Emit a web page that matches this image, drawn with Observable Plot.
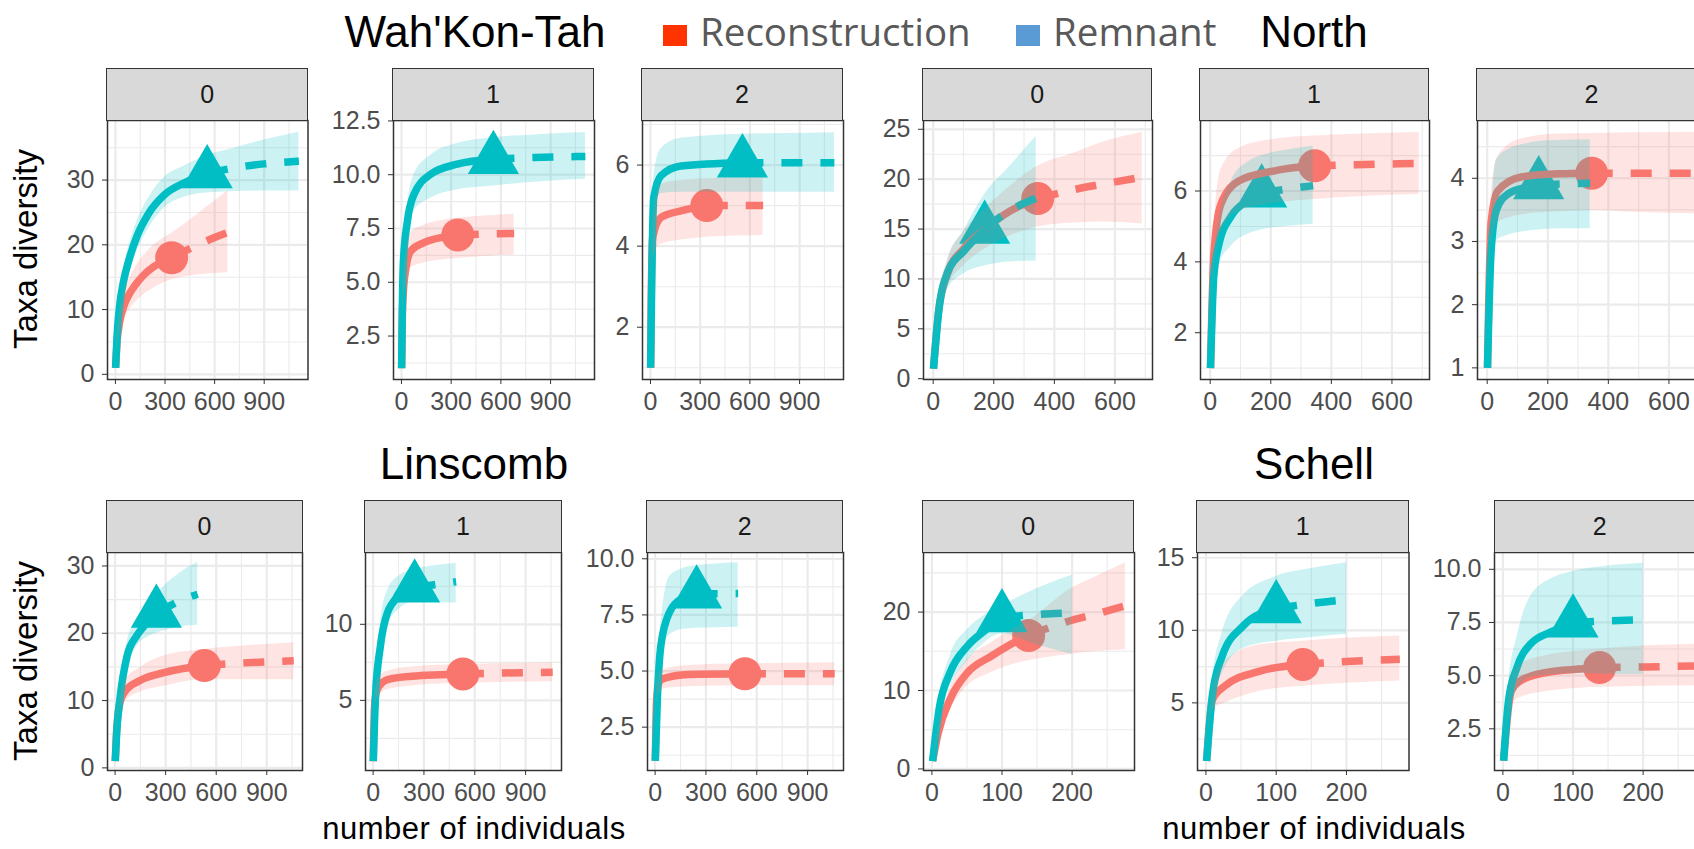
<!DOCTYPE html>
<html>
<head>
<meta charset="utf-8">
<script src="https://cdn.jsdelivr.net/npm/d3@7"></script>
<script src="https://cdn.jsdelivr.net/npm/@observablehq/plot@0.6"></script>
<style>
html, body { margin: 0; padding: 0; background: #fff; overflow: hidden; }
#root { position: relative; width: 1694px; height: 849px; overflow: hidden; font-family: "Liberation Sans", Arial, sans-serif; }
.abs { position: absolute; white-space: nowrap; line-height: 1; }
.strip { position: absolute; box-sizing: border-box; background: #D9D9D9; border: 1.5px solid #333; display: flex; align-items: center; justify-content: center; font-size: 25px; color: #1A1A1A; font-family: "Liberation Sans", Arial, sans-serif; }
.panel { position: absolute; }
</style>
</head>
<body>
<div id="root"></div>
<script>
// ---------------- data ----------------
const sites = ["Wah'Kon-Tah", "North", "Linscomb", "Schell"];
const orders = [0, 1, 2];
const assemblages = ["Reconstruction", "Remnant"];
const sampleSizeReconstruction = [340, 345, 530, 138];
const sampleSizeRemnant = [555, 170, 245, 100];

// rows: [number of individuals, diversity, lower CI, upper CI]
const wahkontah_q0_reconstruction = [[1,1,1,1],[10,5,4,6],[25,8,6.3,9.7],[50,10.5,8.3,12.7],[80,12.2,9.8,14.6],[120,13.8,11.1,16.5],[170,15.3,12.3,18.3],[230,16.6,13.3,19.9],[290,17.4,14.1,21.0],[340,18.0,14.6,21.8],[450,19.4,15.2,23.8],[560,20.7,15.5,26.0],[680,21.9,15.7,28.3]];
const wahkontah_q0_remnant = [[1,1,1,1],[10,6,5,7],[25,10.5,9,12],[50,14.5,12.5,16.5],[80,17.5,15.3,19.7],[130,21.3,19.0,23.6],[200,24.8,22.5,27.2],[300,27.8,25.8,30.5],[420,29.6,27.4,32.2],[555,31.0,28.0,33.8],[700,31.8,28.2,34.8],[900,32.5,28.3,36.2],[1110,32.9,28.3,37.4]];
const wahkontah_q1_reconstruction = [[1,1,1,1],[5,3.2,2.8,3.6],[12,4.6,4.0,5.2],[26,5.6,4.9,6.3],[56,6.45,5.68,7.3],[136,6.84,5.9,7.65],[256,7.1,6.05,7.9],[340,7.2,6.1,7.98],[500,7.24,6.2,8.08],[680,7.27,6.27,8.16]];
const wahkontah_q1_remnant = [[1,1,1,1],[5,3.7,3.3,4.1],[12,6.0,5.2,6.8],[36,7.85,7.1,8.6],[76,9.09,8.31,10.0],[176,10.02,8.9,10.9],[336,10.49,9.3,11.45],[555,10.72,9.48,11.72],[800,10.8,9.65,11.85],[1110,10.85,9.79,11.96]];
const wahkontah_q2_reconstruction = [[1,1,1,1],[5,2.8,2.4,3.2],[14,4.22,3.7,4.7],[64,4.71,4.05,5.53],[184,4.87,4.15,5.62],[340,5.0,4.22,5.66],[500,5.0,4.25,5.68],[680,5.0,4.26,5.69]];
const wahkontah_q2_remnant = [[1,1,1,1],[8,3.23,2.9,3.6],[20,5.2,4.8,5.7],[64,5.74,5.3,6.4],[184,5.98,5.33,6.66],[555,6.06,5.33,6.76],[800,6.06,5.33,6.78],[1110,6.06,5.33,6.8]];

const north_q0_reconstruction = [[1,1,1,1],[18,6.8,5.8,7.8],[48,10.6,9.2,12.0],[100,13.0,11.3,14.7],[171,15.0,13.0,17.0],[254,16.8,14.3,19.3],[345,18.05,15.2,21.3],[465,18.96,15.6,22.6],[560,19.5,15.7,23.7],[690,20.2,15.5,24.7]];
const north_q0_remnant = [[1,1,1,1],[18,6.7,6.0,7.4],[48,10.7,9.0,11.8],[100,12.75,10.5,14.8],[170,15.0,11.3,18.5],[250,16.8,11.7,21.2],[340,18.1,11.8,24.3]];
const north_q1_reconstruction = [[1,1,1,1],[12,4.2,3.6,4.8],[35,5.62,4.8,6.6],[94,6.28,5.43,7.2],[212,6.57,5.65,7.46],[345,6.71,5.76,7.55],[482,6.74,5.84,7.6],[690,6.78,5.9,7.65]];
const north_q1_remnant = [[1,1,1,1],[12,3.6,3.2,4.0],[29,4.5,3.9,5.2],[70,5.3,4.45,6.3],[130,5.75,4.8,6.85],[170,5.95,4.9,7.0],[250,6.05,5.0,7.15],[340,6.15,5.06,7.27]];
const north_q2_reconstruction = [[1,1,1,1],[13,3.3,2.9,3.7],[35,3.8,3.3,4.35],[112,4.02,3.42,4.62],[233,4.07,3.47,4.7],[345,4.08,3.49,4.71],[500,4.08,3.46,4.72],[690,4.08,3.44,4.73]];
const north_q2_remnant = [[1,1,1,1],[13,2.85,2.5,3.2],[30,3.49,3.01,4.28],[68,3.75,3.1,4.45],[134,3.86,3.16,4.55],[170,3.9,3.18,4.58],[250,3.91,3.2,4.6],[340,3.92,3.2,4.61]];

const linscomb_q0_reconstruction = [[1,1,1,1],[8,5.0,4.3,5.7],[28,9.6,8.5,10.7],[57,11.3,9.8,12.9],[142,12.9,11.2,14.8],[283,14.1,12.1,16.6],[530,15.2,13.1,17.6],[764,15.6,13.1,18.1],[1060,15.9,13.1,18.6]];
const linscomb_q0_remnant = [[1,1,1,1],[10,5.5,4.8,6.2],[28,10.1,8.8,11.4],[71,16.6,14.5,18.7],[128,19.6,18.0,21.9],[184,21.4,19.3,24.0],[245,23.0,20.0,25.8],[326,24.1,20.6,27.8],[400,25.0,21.0,29.2],[490,25.8,21.2,30.5]];
const linscomb_q1_reconstruction = [[1,1,1,1],[8,4.5,4.0,5.0],[20,5.6,5.0,6.2],[57,6.2,5.55,6.8],[85,6.37,5.71,6.92],[227,6.59,5.95,7.2],[530,6.74,6.14,7.36],[764,6.8,6.18,7.42],[1060,6.85,6.22,7.46]];
const linscomb_q1_remnant = [[1,1,1,1],[14,5.26,4.8,5.7],[43,8.57,7.8,10.0],[85,10.77,9.9,12.2],[156,11.87,11.0,13.2],[245,12.4,11.5,13.6],[360,12.6,11.45,13.85],[490,12.8,11.4,14.0]];
const linscomb_q2_reconstruction = [[1,1,1,1],[8,3.6,3.2,4.0],[20,4.45,3.95,4.9],[43,4.65,4.2,5.05],[198,4.85,4.3,5.25],[530,4.88,4.35,5.32],[764,4.88,4.35,5.35],[1060,4.88,4.35,5.37]];
const linscomb_q2_remnant = [[1,1,1,1],[14,3.91,3.5,4.3],[34,6.14,5.5,7.0],[85,7.62,6.6,9.2],[156,8.22,6.85,9.55],[245,8.44,6.91,9.7],[360,8.44,6.93,9.77],[490,8.45,6.95,9.82]];

const schell_q0_reconstruction = [[1,1,1,1],[9,4.6,3.8,5.4],[26,8.9,7.5,10.3],[51,12.3,10.6,14.0],[85,14.4,12.3,16.1],[119,16.2,13.4,18.0],[138,17.0,13.8,18.9],[197,18.9,14.6,22.9],[236,19.8,15.0,24.6],[276,20.8,15.2,26.3]];
const schell_q0_remnant = [[1,1,1,1],[11,8.0,6.8,9.2],[26,12.3,10.5,14.4],[51,15.7,13.8,17.8],[75,17.6,16.1,19.6],[100,19.3,17.2,20.8],[150,19.7,15.8,23.0],[200,19.9,14.6,24.7]];
const schell_q1_reconstruction = [[1,1,1,1],[9,5.2,4.5,6.0],[28,6.2,5.0,7.9],[77,7.19,5.8,9.0],[138,7.65,6.15,9.25],[200,7.85,6.35,9.45],[276,8.0,6.5,9.6]];
const schell_q1_remnant = [[1,1,1,1],[9,5.46,4.6,6.4],[23,8.2,7.0,9.8],[53,10.3,8.75,12.4],[100,11.5,9.25,13.7],[150,11.85,9.5,14.25],[200,12.1,9.72,14.66]];
const schell_q2_reconstruction = [[1,1,1,1],[12,4.29,3.6,5.0],[25,4.76,3.97,5.54],[62,5.15,4.25,5.95],[109,5.31,4.41,6.16],[138,5.38,4.45,6.25],[204,5.41,4.5,6.4],[276,5.46,4.52,6.48]];
const schell_q2_remnant = [[1,1,1,1],[8,3.82,3.0,4.6],[20,5.38,4.29,6.8],[39,6.48,4.91,8.7],[72,7.1,5.05,9.6],[100,7.49,5.1,9.9],[150,7.58,5.07,10.15],[200,7.62,5.05,10.28]];

// tick labels
const xTicksWahKonTah = [0, 300, 600, 900];
const xTicksNorth = [0, 200, 400, 600];
const xTicksLinscomb = [0, 300, 600, 900];
const xTicksSchell = [0, 100, 200];
const yTicksWahKonTah = [[0, 10, 20, 30], [2.5, 5, 7.5, 10, 12.5], [2, 4, 6]];
const yTicksNorth = [[0, 5, 10, 15, 20, 25], [2, 4, 6], [1, 2, 3, 4]];
const yTicksLinscomb = [[0, 10, 20, 30], [5, 10], [2.5, 5, 7.5, 10]];
const yTicksSchell = [[0, 10, 20], [5, 10, 15], [2.5, 5, 7.5, 10]];

// ---------------- layout ----------------
const RED = "#F8766D", TEAL = "#00BFC4";
const FONT = '"Liberation Sans", Arial, sans-serif';
const TOP_ROW = {strip: 67.5, top: 119.5, h: 259};
const BOT_ROW = {strip: 500, top: 551.5, h: 218};

const panels = [
  {site: 0, q: 0, row: TOP_ROW, left: 107,    w: 200.5, xDomain: [-48, 1165], yDomain: [-0.8, 39.2], rec: wahkontah_q0_reconstruction, rem: wahkontah_q0_remnant, xTicks: xTicksWahKonTah, yTicks: yTicksWahKonTah[0], dec: false},
  {site: 0, q: 1, row: TOP_ROW, left: 392.5,  w: 201,   xDomain: [-48, 1165], yDomain: [0.48, 12.52], rec: wahkontah_q1_reconstruction, rem: wahkontah_q1_remnant, xTicks: xTicksWahKonTah, yTicks: yTicksWahKonTah[1], dec: true},
  {site: 0, q: 2, row: TOP_ROW, left: 641.5,  w: 201,   xDomain: [-48, 1165], yDomain: [0.71, 7.1], rec: wahkontah_q2_reconstruction, rem: wahkontah_q2_remnant, xTicks: xTicksWahKonTah, yTicks: yTicksWahKonTah[2], dec: false},
  {site: 1, q: 0, row: TOP_ROW, left: 922.7,  w: 229,   xDomain: [-32, 724], yDomain: [-0.08, 25.88], rec: north_q0_reconstruction, rem: north_q0_remnant, xTicks: xTicksNorth, yTicks: yTicksNorth[0], dec: false},
  {site: 1, q: 1, row: TOP_ROW, left: 1199.5, w: 229,   xDomain: [-32, 724], yDomain: [0.68, 7.99], rec: north_q1_reconstruction, rem: north_q1_remnant, xTicks: xTicksNorth, yTicks: yTicksNorth[1], dec: false},
  {site: 1, q: 2, row: TOP_ROW, left: 1477,   w: 229,   xDomain: [-32, 724], yDomain: [0.816, 4.914], rec: north_q2_reconstruction, rem: north_q2_remnant, xTicks: xTicksNorth, yTicks: yTicksNorth[2], dec: false},
  {site: 2, q: 0, row: BOT_ROW, left: 107,    w: 195,   xDomain: [-45, 1112], yDomain: [-0.39, 32.0], rec: linscomb_q0_reconstruction, rem: linscomb_q0_remnant, xTicks: xTicksLinscomb, yTicks: yTicksLinscomb[0], dec: false},
  {site: 2, q: 1, row: BOT_ROW, left: 365,    w: 196,   xDomain: [-45, 1112], yDomain: [0.39, 14.72], rec: linscomb_q1_reconstruction, rem: linscomb_q1_remnant, xTicks: xTicksLinscomb, yTicks: yTicksLinscomb[1], dec: false},
  {site: 2, q: 2, row: BOT_ROW, left: 646.6,  w: 196,   xDomain: [-45, 1112], yDomain: [0.57, 10.28], rec: linscomb_q2_reconstruction, rem: linscomb_q2_remnant, xTicks: xTicksLinscomb, yTicks: yTicksLinscomb[2], dec: true},
  {site: 3, q: 0, row: BOT_ROW, left: 922.7,  w: 211,   xDomain: [-12, 289], yDomain: [-0.2, 27.6], rec: schell_q0_reconstruction, rem: schell_q0_remnant, xTicks: xTicksSchell, yTicks: yTicksSchell[0], dec: false},
  {site: 3, q: 1, row: BOT_ROW, left: 1197,   w: 211.5, xDomain: [-12, 289], yDomain: [0.34, 15.36], rec: schell_q1_reconstruction, rem: schell_q1_remnant, xTicks: xTicksSchell, yTicks: yTicksSchell[1], dec: false},
  {site: 3, q: 2, row: BOT_ROW, left: 1494.3, w: 211,   xDomain: [-12, 289], yDomain: [0.54, 10.79], rec: schell_q2_reconstruction, rem: schell_q2_remnant, xTicks: xTicksSchell, yTicks: yTicksSchell[2], dec: true}
];

const root = document.getElementById("root");

function addText(text, css) {
  const d = document.createElement("div");
  d.className = "abs";
  d.textContent = text;
  Object.assign(d.style, css);
  root.appendChild(d);
  return d;
}

function minorOf(ticks, domain) {
  const step = ticks.length > 1 ? ticks[1] - ticks[0] : 1;
  const out = [];
  for (let v = ticks[0] - step / 2 - step * 4; v <= domain[1]; v += step) {
    if (v >= domain[0]) out.push(v);
  }
  return out;
}

function toRows(arr, group) {
  return arr.map(([m, qD, lo, hi]) => ({m, qD, lo, hi, group}));
}

const ML = 72, MR = 2, MT = 2, MB = 48;
const LW = 7.5, DASH = "21,18";

for (const p of panels) {
  const nRec = sampleSizeReconstruction[p.site];
  const nRem = sampleSizeRemnant[p.site];
  const R = toRows(p.rec, assemblages[0]);
  const T = toRows(p.rem, assemblages[1]);
  const h = p.row.h;
  const inDom = (v, d) => v >= d[0] && v <= d[1];
  const yT = p.yTicks.filter(v => inDom(v, p.yDomain));
  const xT = p.xTicks.filter(v => inDom(v, p.xDomain));
  const fmt = p.dec ? d3.format(".1f") : (d => String(d));

  const chart = Plot.plot({
    width: ML + p.w + MR,
    height: MT + h + MB,
    marginLeft: ML, marginRight: MR, marginTop: MT, marginBottom: MB,
    x: {domain: p.xDomain},
    y: {domain: p.yDomain},
    style: {background: "transparent", overflow: "visible", fontFamily: FONT, fontSize: "25px"},
    marks: [
      Plot.ruleX(minorOf(p.xTicks, p.xDomain), {stroke: "#EBEBEB", strokeWidth: 1.1}),
      Plot.ruleY(minorOf(p.yTicks, p.yDomain), {stroke: "#EBEBEB", strokeWidth: 1.1}),
      Plot.ruleX(xT, {stroke: "#EBEBEB", strokeWidth: 2.2}),
      Plot.ruleY(yT, {stroke: "#EBEBEB", strokeWidth: 2.2}),
      // observed points
      Plot.dot(R.filter(d => d.m === nRec), {x: "m", y: "qD", r: 16.5, fill: RED, symbol: "circle"}),
      Plot.dot(T.filter(d => d.m === nRem), {x: "m", y: "qD", r: 19, fill: TEAL, symbol: "triangle"}),
      // rarefaction (solid) and extrapolation (dashed)
      Plot.line(R.filter(d => d.m <= nRec), {x: "m", y: "qD", stroke: RED, strokeWidth: LW, curve: "monotone-x", strokeLinecap: "butt"}),
      Plot.line(R.filter(d => d.m >= nRec), {x: "m", y: "qD", stroke: RED, strokeWidth: LW, curve: "monotone-x", strokeLinecap: "butt", strokeDasharray: DASH}),
      Plot.line(T.filter(d => d.m <= nRem), {x: "m", y: "qD", stroke: TEAL, strokeWidth: LW, curve: "monotone-x", strokeLinecap: "butt"}),
      Plot.line(T.filter(d => d.m >= nRem), {x: "m", y: "qD", stroke: TEAL, strokeWidth: LW, curve: "monotone-x", strokeLinecap: "butt", strokeDasharray: DASH}),
      // confidence ribbons
      Plot.areaY(R, {x: "m", y1: "lo", y2: "hi", fill: RED, fillOpacity: 0.2, curve: "monotone-x"}),
      Plot.areaY(T, {x: "m", y1: "lo", y2: "hi", fill: TEAL, fillOpacity: 0.2, curve: "monotone-x"}),
      Plot.frame({stroke: "#333333", strokeWidth: 1.5}),
      Plot.axisX({ticks: xT, tickFormat: d => String(d), tickSize: 5, tickPadding: 8, stroke: "#333333", fill: "#4D4D4D", fontSize: 25, label: null}),
      Plot.axisY({ticks: yT, tickFormat: fmt, tickSize: 5, tickPadding: 8, stroke: "#333333", fill: "#4D4D4D", fontSize: 25, label: null})
    ]
  });
  chart.classList.add("panel");
  chart.style.left = (p.left - ML) + "px";
  chart.style.top = (p.row.top - MT) + "px";
  chart.style.maxWidth = "none";
  root.appendChild(chart);

  const strip = document.createElement("div");
  strip.className = "strip";
  strip.style.left = (p.left - 0.75) + "px";
  strip.style.top = p.row.strip + "px";
  strip.style.width = (p.w + 1.5) + "px";
  strip.style.height = (p.row.top - p.row.strip + 1) + "px";
  strip.textContent = String(orders[p.q]);
  root.appendChild(strip);
}

// site titles
addText(sites[0], {left: "475px", top: "9.5px", fontSize: "44px", color: "#000", transform: "translateX(-50%)"});
addText(sites[1], {left: "1314px", top: "9.5px", fontSize: "44px", color: "#000", transform: "translateX(-50%)"});
addText(sites[2], {left: "474px", top: "442px", fontSize: "44px", color: "#000", transform: "translateX(-50%)"});
addText(sites[3], {left: "1314px", top: "442px", fontSize: "44px", color: "#000", transform: "translateX(-50%)"});

// legend
function legendKey(left, color) {
  const d = document.createElement("div");
  Object.assign(d.style, {position: "absolute", left: left + "px", top: "25px", width: "24px", height: "21px", background: color});
  root.appendChild(d);
}
legendKey(663, "#FF3300");
legendKey(1015.5, "#5B9BD5");
addText(assemblages[0], {left: "700px", top: "11.5px", fontSize: "38.5px", color: "#595959", fontFamily: '"Open Sans", sans-serif'});
addText(assemblages[1], {left: "1053px", top: "11.5px", fontSize: "38.5px", color: "#595959", fontFamily: '"Open Sans", sans-serif'});

// axis titles
for (const cy of [249, 661]) {
  addText("Taxa diversity", {left: "25px", top: cy + "px", fontSize: "33px", color: "#000", transform: "translate(-50%, -50%) rotate(-90deg)"});
}
for (const cx of [474, 1314]) {
  addText("number of individuals", {left: cx + "px", top: "813px", fontSize: "31px", letterSpacing: "0.5px", color: "#000", transform: "translateX(-50%)"});
}
</script>
</body>
</html>
